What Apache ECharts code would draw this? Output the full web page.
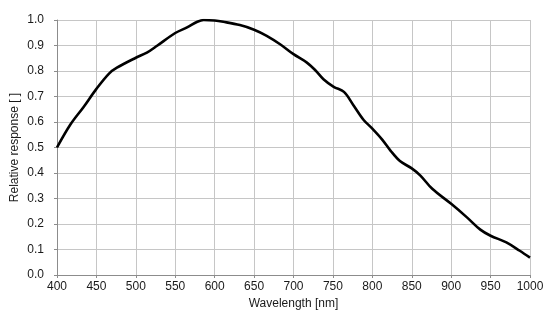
<!DOCTYPE html>
<html>
<head>
<meta charset="utf-8">
<style>
  html, body { margin: 0; padding: 0; background: #fff; }
  #chart { width: 554px; height: 331px; }
</style>
<script src="https://cdn.jsdelivr.net/npm/echarts@6/dist/echarts.min.js"></script>
</head>
<body>
<div id="chart"></div>
<script>
// Spectral response curve: wavelength (nm) vs relative response
const wavelengths = [400, 417, 434, 450, 466, 476, 500, 514, 527, 550, 565, 578, 586, 600,
  611, 632, 650, 666, 683, 700, 717, 728, 738, 751, 764, 776, 789, 800, 812, 823, 835,
  850, 861, 876, 900, 920, 937, 950, 970, 987, 1000];
const response = [0.50, 0.59, 0.66, 0.73, 0.79, 0.813, 0.852, 0.872, 0.899, 0.949, 0.971, 0.993, 1.0, 0.998,
  0.993, 0.980, 0.962, 0.938, 0.905, 0.866, 0.833, 0.802, 0.768, 0.738, 0.718, 0.666, 0.608, 0.574, 0.533, 0.488, 0.447,
  0.418, 0.390, 0.338, 0.279, 0.226, 0.178, 0.154, 0.128, 0.095, 0.068];

const xTitle = 'Wavelength [nm]';
const yTitle = 'Relative response [ ]';

const points = wavelengths.map((w, i) => [w, response[i]]);
const font = 'Liberation Sans, Arial, sans-serif';

const chart = echarts.init(document.getElementById('chart'), null, { renderer: 'canvas' });
chart.setOption({
  animation: false,
  backgroundColor: '#ffffff',
  grid: { left: 57, right: 24, top: 20, bottom: 56, containLabel: false, outerBoundsMode: 'none' },
  xAxis: {
    type: 'value',
    min: 400, max: 1000, interval: 50,
    name: xTitle,
    nameLocation: 'middle',
    nameGap: 23,
    nameMoveOverlap: false,
    nameTextStyle: { fontFamily: font, fontSize: 12, color: '#1a1a1a' },
    axisLine: { show: true, lineStyle: { color: '#8c8c8c', width: 1 } },
    axisTick: { show: true, length: 3, lineStyle: { color: '#8c8c8c' } },
    axisLabel: { fontFamily: font, fontSize: 12, color: '#1a1a1a', margin: 6,
      formatter: v => String(v) },
    splitLine: { show: true, lineStyle: { color: '#c6c6c6', width: 1 } }
  },
  yAxis: {
    type: 'value',
    min: 0, max: 1, interval: 0.1,
    name: yTitle,
    nameLocation: 'middle',
    nameGap: 36,
    nameMoveOverlap: false,
    nameTextStyle: { fontFamily: font, fontSize: 12, color: '#1a1a1a' },
    axisLine: { show: true, lineStyle: { color: '#8c8c8c', width: 1 } },
    axisTick: { show: true, length: 3, lineStyle: { color: '#8c8c8c' } },
    axisLabel: { fontFamily: font, fontSize: 12, color: '#1a1a1a', margin: 13,
      formatter: v => v.toFixed(1) },
    splitLine: { show: true, lineStyle: { color: '#c6c6c6', width: 1 } }
  },
  series: [{
    type: 'line',
    data: points,
    smooth: 0.35,
    showSymbol: false,
    lineStyle: { color: '#000000', width: 2.6 }
  }]
});
</script>
</body>
</html>
